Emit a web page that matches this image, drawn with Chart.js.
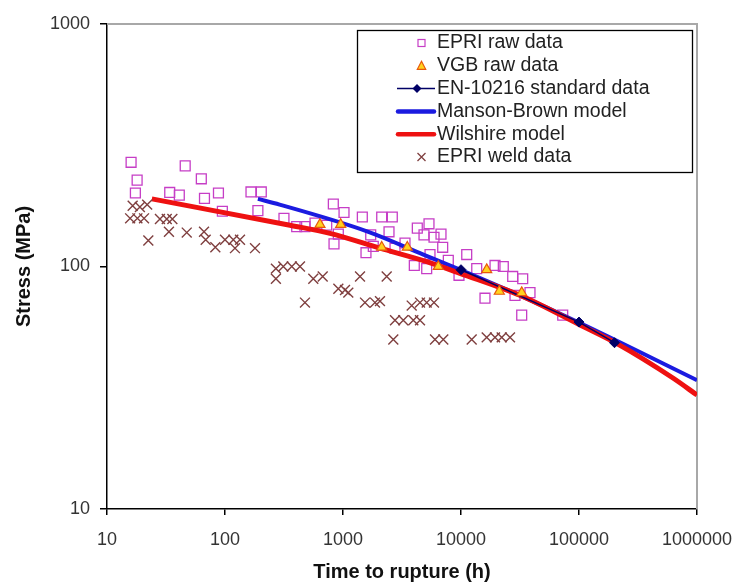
<!DOCTYPE html>
<html>
<head>
<meta charset="utf-8">
<script src="https://cdn.jsdelivr.net/npm/chart.js@4.4.1/dist/chart.umd.min.js"></script>
<style>
  html, body { margin: 0; padding: 0; background: #fff; }
  #wrap { width: 738px; height: 584px; }
</style>
</head>
<body>
<div id="wrap"><canvas id="chart" width="738" height="584"></canvas></div>
<script>
/* ---------- data (time h, stress MPa) ---------- */
const xTicks = [10, 100, 1000, 10000, 100000, 1000000];
const yTicks = [10, 100, 1000];

const epriRaw = [
  [16,269],[18,227],[17.4,201],[46,260],[63,230],[34,202],[41,197],[67,191],[88,201],[95,169],
  [166,203],[203,203],[190,170],[316,158],[405,146],[476,146],[579,151],[728,148],[828,181],
  [1020,167],[913,136],[839,124],[1458,160],[2128,160],[2617,160],[2454,139],[1717,135],
  [1806,121],[1566,114],[2759,119],[3353,125],[4263,144],[5355,150],[4858,135],[5904,132],
  [6769,136],[6996,120],[5462,112],[4020,101],[5120,98],[7806,106],[11180,112],[9616,92],
  [13590,98],[19420,101],[22830,100],[15970,74],[27420,91],[33340,89],[28680,76],[38440,78],
  [32690,63],[72770,63]
];
const vgbRaw = [[638,149],[956,149],[2128,120],[3507,120],[6421,100],[16510,97],[21120,79],[32690,78]];
const en10216 = [[10000,97],[100000,59],[200000,48.5]];
const mansonBrown = [[190,190],[290,180],[1640,139],[4800,112],[9800,97],[33500,75],[102000,58.5],[1000000,34]];
const wilshire = [[24,190],[355,148],[776,137],[2058,119],[5120,104.7],[9800,93.7],[33700,75],
                  [102000,57.4],[208000,48.2],[630000,34.6],[1000000,29.5]];
const epriWeld = [
  [16.5,178],[19,176],[21.9,180],[15.7,158],[18.1,158],[20.6,158],[22.4,128],[28.1,157],[32.1,157],
  [35.8,157],[33.5,139],[47.4,138],[66.4,139],[68.6,129],[82.8,120],[100,129],[117.6,129],[134,129],
  [121.5,119],[179.6,119],[270,98],[312,100],[270,89],[368,100],[432,100],[560,89],[673,91],
  [913,81],[1040,80],[1109,78],[476,71],[1394,91],[1536,71],[1867,71],[2058,72],[2346,91],
  [3821,69],[4493,71],[5120,71],[5904,71],[2759,60],[3243,60],[3943,60],[4493,60],[2669,50],
  [6021,50],[7079,50],[12320,50],[16510,51],[19420,51],[22130,51],[26020,51]
];

/* ---------- helpers ---------- */
const pts = arr => arr.map(([x, y]) => ({ x, y }));
const FONT = "'Liberation Sans', Arial, sans-serif";

const C_SQ   = "#c63ec6";
const C_TRI  = "#ffd21f", C_TRI_B = "#e8590c";
const C_EN   = "#000066";
const C_MB   = "#1b1be0";
const C_WIL  = "#ee1111";
const C_WELD = "#7f3f3f";

/* ---------- plot frame + boxed legend ---------- */
const framePlugin = {
  id: "frame",
  beforeDatasetsDraw(chart) {
    const { ctx, chartArea: a } = chart;
    ctx.save();
    ctx.strokeStyle = "#a8a8a8";
    ctx.lineWidth = 2;
    ctx.beginPath();
    ctx.moveTo(a.left, a.top);
    ctx.lineTo(a.right, a.top);
    ctx.lineTo(a.right, a.bottom);
    ctx.stroke();
    ctx.restore();
  }
};

const legendRows = [
  { label: "EPRI raw data",          kind: "square"  },
  { label: "VGB raw data",           kind: "tri"     },
  { label: "EN-10216 standard data", kind: "enline"  },
  { label: "Manson-Brown model",     kind: "mb"      },
  { label: "Wilshire model",         kind: "wil"     },
  { label: "EPRI weld data",         kind: "cross"   }
];

const legendPlugin = {
  id: "boxLegend",
  afterDraw(chart) {
    const ctx = chart.ctx;
    const bx = 357, by = 30, bw = 335, bh = 142;
    ctx.save();
    ctx.fillStyle = "#fff";
    ctx.fillRect(bx, by, bw, bh);
    ctx.strokeStyle = "#000";
    ctx.lineWidth = 1.3;
    ctx.strokeRect(bx + .5, by + .5, bw, bh);

    const sx = 421.5, tx = 437;
    ctx.font = "19.5px " + FONT;
    ctx.textBaseline = "middle";
    ctx.textAlign = "left";

    legendRows.forEach((r, i) => {
      const y = 43 + i * 22.8;
      ctx.save();
      if (r.kind === "square") {
        ctx.strokeStyle = C_SQ; ctx.lineWidth = 1.2;
        ctx.strokeRect(sx - 3.5, y - 3.5, 7, 7);
      } else if (r.kind === "tri") {
        ctx.fillStyle = C_TRI; ctx.strokeStyle = C_TRI_B; ctx.lineWidth = 1.2;
        ctx.beginPath();
        ctx.moveTo(sx, y - 4.5); ctx.lineTo(sx + 4.2, y + 3.5); ctx.lineTo(sx - 4.2, y + 3.5);
        ctx.closePath(); ctx.fill(); ctx.stroke();
      } else if (r.kind === "enline") {
        ctx.strokeStyle = C_EN; ctx.lineWidth = 1.5;
        ctx.beginPath(); ctx.moveTo(397, y); ctx.lineTo(435, y); ctx.stroke();
        ctx.fillStyle = C_EN;
        ctx.beginPath();
        ctx.moveTo(417 - 4.5, y); ctx.lineTo(417, y - 4.5); ctx.lineTo(417 + 4.5, y); ctx.lineTo(417, y + 4.5);
        ctx.closePath(); ctx.fill();
      } else if (r.kind === "mb" || r.kind === "wil") {
        ctx.strokeStyle = r.kind === "mb" ? C_MB : C_WIL; ctx.lineWidth = 4.5;
        ctx.lineCap = "round";
        ctx.beginPath(); ctx.moveTo(398, y); ctx.lineTo(434, y); ctx.stroke();
      } else if (r.kind === "cross") {
        ctx.strokeStyle = C_WELD; ctx.lineWidth = 1.3;
        ctx.beginPath();
        ctx.moveTo(sx - 4, y - 4); ctx.lineTo(sx + 4, y + 4);
        ctx.moveTo(sx + 4, y - 4); ctx.lineTo(sx - 4, y + 4);
        ctx.stroke();
      }
      ctx.restore();
      ctx.fillStyle = "#222";
      ctx.fillText(r.label, tx, y);
    });
    ctx.restore();
  }
};

/* ---------- chart ---------- */
new Chart(document.getElementById("chart"), {
  type: "scatter",
  data: {
    datasets: [
      { label: "EPRI raw data", data: pts(epriRaw), order: 6,
        pointStyle: "rect", pointRadius: 7, borderColor: C_SQ, backgroundColor: "rgba(0,0,0,0)",
        borderWidth: 1.3 },
      { label: "VGB raw data", data: pts(vgbRaw), order: 2,
        pointStyle: "triangle", pointRadius: 5.8, borderColor: C_TRI_B, backgroundColor: C_TRI,
        borderWidth: 1.2 },
      { label: "EN-10216 standard data", data: pts(en10216), order: 3, showLine: true,
        borderColor: C_EN, backgroundColor: C_EN, borderWidth: 1.5,
        pointStyle: "rectRot", pointRadius: 5, pointBorderWidth: 1 },
      { label: "Manson-Brown model", data: pts(mansonBrown), order: 5, showLine: true,
        borderColor: C_MB, borderWidth: 4, pointRadius: 0,
        tension: 0.4, cubicInterpolationMode: "monotone" },
      { label: "Wilshire model", data: pts(wilshire), order: 4, showLine: true,
        borderColor: C_WIL, borderWidth: 5, pointRadius: 0,
        tension: 0.4, cubicInterpolationMode: "monotone" },
      { label: "EPRI weld data", data: pts(epriWeld), order: 1,
        pointStyle: "crossRot", pointRadius: 7, borderColor: C_WELD, borderWidth: 1.4 }
    ]
  },
  options: {
    responsive: false,
    devicePixelRatio: 1,
    animation: false,
    layout: { padding: { left: 0, top: 24, right: 41, bottom: 0 } },
    plugins: { legend: { display: false }, tooltip: { enabled: false } },
    scales: {
      x: {
        type: "logarithmic", min: 10, max: 1000000,
        afterBuildTicks: s => { s.ticks = xTicks.map(v => ({ value: v })); },
        afterFit: s => { s.height = 75; s.paddingLeft = 0; s.paddingRight = 0; },
        ticks: { callback: v => String(v), autoSkip: false, maxRotation: 0,
                 font: { family: FONT, size: 18 }, color: "#333", padding: 14 },
        grid: { drawOnChartArea: false, drawTicks: true, tickLength: 6, color: "#000", lineWidth: 1.5 },
        border: { display: true, color: "#000", width: 1.5 },
        title: { display: true, text: "Time to rupture (h)", color: "#111",
                 font: { family: FONT, size: 20, weight: "bold" }, padding: { top: 0, bottom: 0 } }
      },
      y: {
        type: "logarithmic", min: 10, max: 1000,
        afterBuildTicks: s => { s.ticks = yTicks.map(v => ({ value: v })); },
        afterFit: s => { s.width = 107; s.paddingTop = 0; s.paddingBottom = 0; },
        ticks: { callback: v => String(v), autoSkip: false,
                 font: { family: FONT, size: 18 }, color: "#333", padding: 10 },
        grid: { drawOnChartArea: false, drawTicks: true, tickLength: 7, color: "#000", lineWidth: 1.5 },
        border: { display: true, color: "#000", width: 1.5 },
        title: { display: true, text: "Stress (MPa)", color: "#111",
                 font: { family: FONT, size: 20, weight: "bold" }, padding: { top: 12, bottom: 0 } }
      }
    }
  },
  plugins: [framePlugin, legendPlugin]
});
</script>
</body>
</html>
